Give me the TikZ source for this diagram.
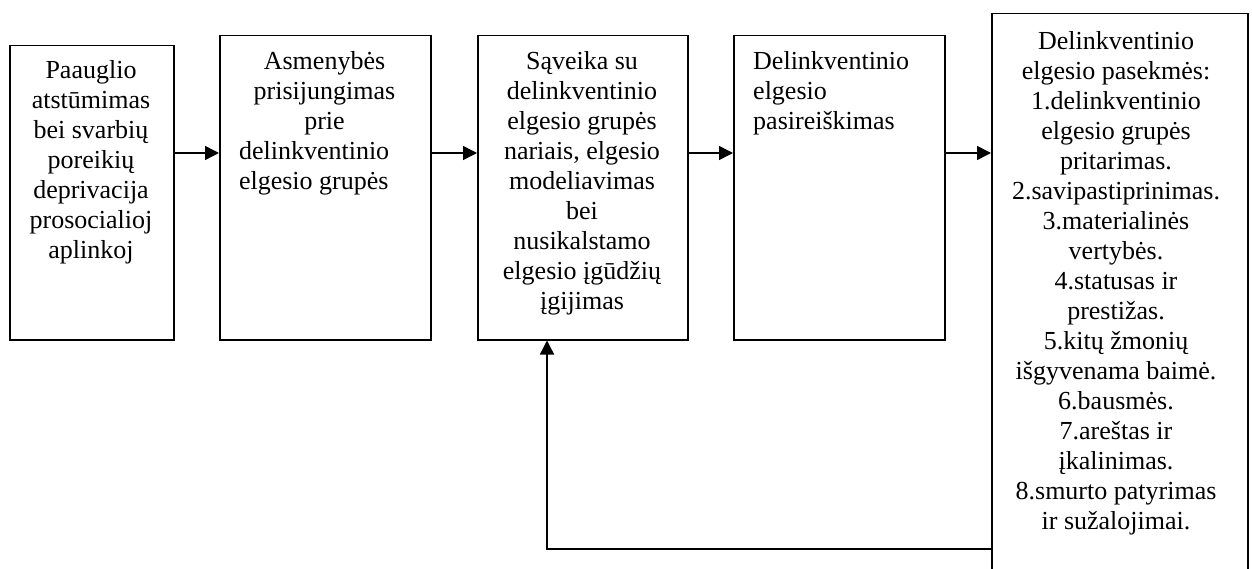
\documentclass[tikz,border=0pt]{standalone}
\usepackage{fontspec}
\setmainfont{Liberation Serif}
\usetikzlibrary{arrows.meta}
\begin{document}
\begin{tikzpicture}[x=1pt,y=-1pt,
  box/.style={draw, line width=1.5pt, rectangle, inner sep=0pt, anchor=north west},
  txt/.style={inner sep=0pt, font=\fontsize{26}{30}\selectfont},
  arr/.style={line width=1.5pt, -{Triangle[length=14pt,width=14pt]}}]
\useasboundingbox (0,0) rectangle (1252,569);
\clip (0,0) rectangle (1252,569);
\node[box, minimum width=164pt, minimum height=294pt] (b1) at (9,45) {};
\node[box, minimum width=211pt, minimum height=304pt] (b2) at (219,35) {};
\node[box, minimum width=210pt, minimum height=304pt] (b3) at (477,35) {};
\node[box, minimum width=211pt, minimum height=304pt] (b4) at (733,35) {};
\node[box, minimum width=256pt, minimum height=607pt] (b5) at (991,13) {};
\node[txt, anchor=north, align=center] (t1) at (91,60.2) {Paauglio\\atstūmimas\\bei svarbių\\poreikių\\deprivacija\\prosocialioj\\aplinkoj};
\node[txt, anchor=north, align=center] (t2) at (324.5,51.2) {Asmenybės\\prisijungimas\\prie\\\makebox[171pt][l]{delinkventinio}\\\makebox[171pt][l]{elgesio grupės}};
\node[txt, anchor=north, align=center] (t3) at (582,51.2) {Sąveika su\\delinkventinio\\elgesio grupės\\nariais, elgesio\\modeliavimas\\bei\\nusikalstamo\\elgesio įgūdžių\\įgijimas};
\node[txt, anchor=north west, align=left] (t4) at (753,51.2) {Delinkventinio\\elgesio\\pasireiškimas};
\node[txt, anchor=north, align=center] (t5) at (1116,31.2) {Delinkventinio\\elgesio pasekmės:\\1.delinkventinio\\elgesio grupės\\pritarimas.\\2.savipastiprinimas.\\3.materialinės\\vertybės.\\4.statusas ir\\prestižas.\\5.kitų žmonių\\išgyvenama baimė.\\6.bausmės.\\7.areštas ir\\įkalinimas.\\8.smurto patyrimas\\ir sužalojimai.};
\coordinate (ay) at (0,153);
\coordinate (fb) at (547,549);
\draw[arr] (b1.east |- ay) -- (b2.west |- ay);
\draw[arr] (b2.east |- ay) -- (b3.west |- ay);
\draw[arr] (b3.east |- ay) -- (b4.west |- ay);
\draw[arr] (b4.east |- ay) -- (b5.west |- ay);
\draw[arr] (b5.west |- fb) -| (b3.south -| fb);
\end{tikzpicture}
\end{document}
